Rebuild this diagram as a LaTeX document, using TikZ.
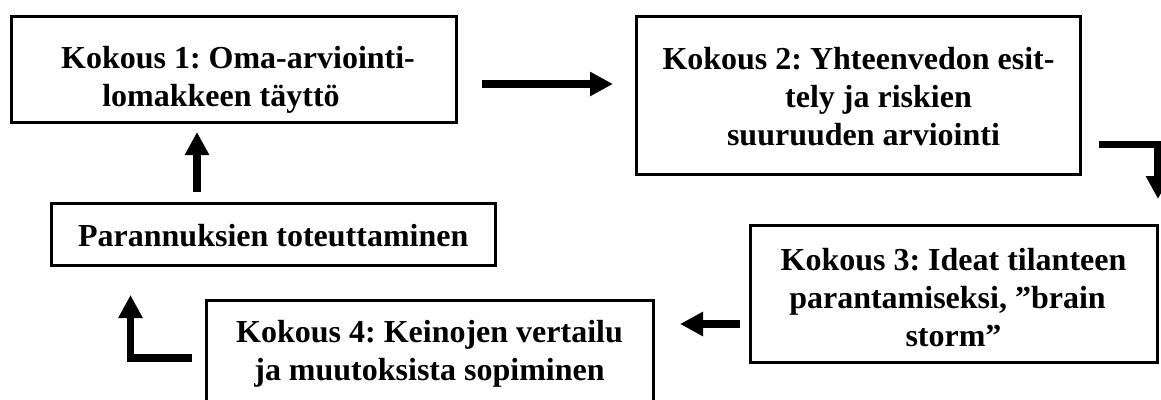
\documentclass[tikz,border=0pt]{standalone}
\usepackage{fontspec}
\setmainfont{Liberation Serif}
\usetikzlibrary{arrows.meta}
\frenchspacing
% centred stack of lines whose baseline is the first line
\newcommand\stacklines[1]{\begin{tabular}[t]{@{}c@{}}#1\end{tabular}}
\begin{document}
\begin{tikzpicture}[x=1pt,y=-1pt,
  box/.style={draw, line width=3pt, rectangle, inner sep=0pt},
  lbl/.style={anchor=base, inner sep=0pt, font=\bfseries\fontsize{32}{38}\selectfont},
  blockarrow/.style={line width=7.5pt, line join=miter,
    -{Triangle[length=23pt,width=23pt]}}]
\clip (0,0) rectangle (1161,399);
\fill[white] (0,0) rectangle (1161,399);

% boxes
\node[box, minimum width=445pt, minimum height=106pt]   (k1) at (234,69.5) {};
\node[box, minimum width=444pt, minimum height=157.5pt] (k2) at (858.5,95.25) {};
\node[box, minimum width=407pt, minimum height=137.5pt] (k3) at (953.5,293.75) {};
\node[box, minimum width=447pt, minimum height=130pt]   (k4) at (429.5,365) {};
\node[box, minimum width=443.5pt, minimum height=62pt]  (pt) at (273.25,234.5) {};

% texts (the \hspace* pads nudge single lines sideways)
\node[lbl] (k1t) at (234,68) {\stacklines{\hspace*{8pt}Kokous 1: Oma-arviointi-\\lomakkeen täyttö\hspace*{26pt}}};
\node[lbl] (k2t) at (858.5,69) {\stacklines{Kokous 2: Yhteenvedon esit-\\\hspace*{40pt}tely ja riskien\\\hspace*{10pt}suuruuden arviointi}};
\node[lbl] (k3t) at (953.5,270) {\stacklines{Kokous 3: Ideat tilanteen\\parantamiseksi, ”brain\hspace*{12pt}\\storm”}};
\node[lbl] (k4t) at (429.5,342) {\stacklines{Kokous 4: Keinojen vertailu\\ja muutoksista sopiminen}};
\node[lbl] (ptt) at (273.25,246) {Parannuksien toteuttaminen};

% arrow end points
\coordinate (a1s) at (482,84);    \coordinate (a1e) at (613,84);
\coordinate (a2s) at (1099,144.5); \coordinate (a2c) at (1158,144.5); \coordinate (a2e) at (1158,199);
\coordinate (a3s) at (740,324);   \coordinate (a3e) at (680,324);
\coordinate (a4s) at (192,358);   \coordinate (a4c) at (130.5,358); \coordinate (a4e) at (130.5,295);
\coordinate (a5s) at (197,192);   \coordinate (a5e) at (197,132);

% arrows
\draw[blockarrow] (a1s) -- (a1e);
\draw[blockarrow] (a2s) -- (a2c) -- (a2e);
\draw[blockarrow] (a3s) -- (a3e);
\draw[blockarrow] (a4s) -- (a4c) -- (a4e);
\draw[blockarrow] (a5s) -- (a5e);
\end{tikzpicture}
\end{document}
